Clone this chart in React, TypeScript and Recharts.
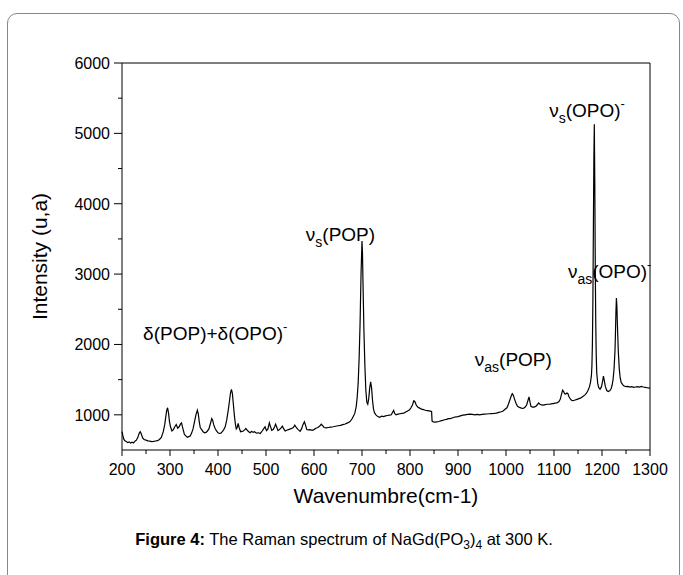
import React from 'react';
import { LineChart, Line, XAxis, YAxis, ReferenceLine, ReferenceDot } from 'recharts';

// Raman shift (cm-1) and intensity
const wavenumbers = [
  200, 202, 204, 206, 209, 212, 215, 218, 221, 224, 227, 230, 233, 236, 238, 240, 243, 246, 250, 254,
  258, 262, 266, 270, 274, 278, 282, 286, 289, 291, 293, 295, 297, 299, 301, 304, 307, 310, 313, 316,
  319, 322, 324, 327, 330, 333, 336, 339, 342, 345, 348, 351, 354, 357, 359, 361, 363, 366, 369, 372,
  375, 378, 381, 384, 387, 389, 391, 394, 397, 400, 403, 406, 409, 412, 415, 418, 421, 424, 426, 428,
  430, 432, 434, 436, 438, 440, 442, 444, 447, 450, 453, 456, 458, 461, 464, 467, 470, 473, 476, 480,
  484, 488, 492, 495, 498, 501, 504, 507, 509, 512, 515, 518, 520, 522, 525, 528, 531, 534, 537, 540,
  543, 547, 551, 554, 557, 560, 563, 567, 571, 574, 577, 580, 582, 585, 588, 592, 596, 600, 604, 608,
  612, 615, 618, 621, 625, 630, 635, 640, 645, 650, 655, 660, 665, 670, 675, 679, 682, 685, 688, 690,
  692, 694, 696, 698, 700, 701, 702, 704, 706, 708, 710, 712, 714, 716, 718, 720, 722, 724, 726, 729,
  733, 737, 741, 745, 749, 753, 757, 761, 764, 766, 768, 771, 775, 779, 783, 787, 791, 795, 799, 802,
  805, 808, 810, 813, 816, 820, 824, 828, 832, 836, 840, 844, 845, 846, 849, 852, 856, 860, 864, 868,
  872, 876, 880, 884, 888, 892, 896, 900, 905, 910, 915, 920, 925, 930, 935, 940, 945, 950, 955, 960,
  965, 970, 975, 980, 985, 990, 994, 998, 1002, 1005, 1008, 1011, 1013, 1015, 1018, 1021, 1024, 1028, 1032, 1036,
  1040, 1043, 1046, 1048, 1050, 1052, 1055, 1058, 1062, 1066, 1068, 1070, 1074, 1078, 1082, 1086, 1090, 1094, 1098, 1102,
  1106, 1110, 1113, 1116, 1118, 1120, 1122, 1124, 1127, 1129, 1131, 1134, 1137, 1140, 1144, 1148, 1152, 1156, 1160, 1164,
  1168, 1171, 1174, 1176, 1178, 1179, 1180, 1181, 1182, 1183, 1184, 1185, 1186, 1187, 1188, 1189, 1191, 1193, 1196, 1199,
  1201, 1203, 1205, 1207, 1210, 1213, 1216, 1219, 1221, 1223, 1225, 1227, 1228, 1229, 1230, 1231, 1232, 1234, 1236, 1238,
  1240, 1243, 1246, 1250, 1254, 1258, 1262, 1266, 1270, 1274, 1278, 1282, 1286, 1290, 1294, 1298, 1300,
];

const intensities = [
  760, 700, 650, 630, 620, 605, 615, 598, 610, 600, 625, 640, 680, 740, 760, 730, 670, 650, 640, 630,
  625, 620, 622, 628, 632, 650, 680, 760, 860, 960, 1060, 1100, 1020, 900, 830, 770, 790, 830, 862, 810,
  830, 870, 885, 800, 720, 700, 680, 690, 700, 740, 800, 900, 1000, 1066, 1010, 900, 820, 790, 760, 745,
  750, 770, 800, 870, 946, 920, 860, 805, 770, 745, 735, 740, 760, 790, 830, 920, 1050, 1200, 1310, 1360,
  1300, 1150, 1000, 880, 800, 820, 880, 820, 760, 765, 770, 790, 805, 780, 760, 745, 765, 750, 760, 740,
  745, 735, 770, 800, 830, 775, 800, 885, 840, 780, 790, 830, 866, 830, 775, 790, 810, 838, 800, 770,
  780, 790, 800, 810, 820, 852, 820, 790, 765, 800, 860, 900, 860, 790, 785, 790, 780, 790, 810, 820,
  840, 866, 845, 820, 815, 820, 825, 830, 838, 845, 850, 860, 870, 885, 905, 940, 980, 1020, 1120, 1250,
  1450, 1800, 2300, 3000, 3470, 3300, 2900, 2200, 1700, 1350, 1180, 1150, 1230, 1380, 1470, 1380, 1200, 1080, 1030, 1000,
  975, 965, 980, 975, 985, 990, 995, 1000, 1040, 1062, 1020, 1000, 1010, 1015, 1020, 1025, 1040, 1055, 1070, 1100,
  1140, 1200, 1190, 1140, 1110, 1095, 1080, 1075, 1065, 1060, 1055, 1050, 1045, 910, 900, 895, 900, 905, 915, 922,
  930, 935, 945, 945, 955, 965, 970, 975, 985, 995, 1000, 1005, 1010, 1005, 1000, 1005, 1000, 1005, 1010, 1012,
  1015, 1018, 1020, 1025, 1035, 1043, 1055, 1080, 1100, 1150, 1210, 1270, 1300, 1280, 1220, 1160, 1120, 1105, 1095, 1090,
  1110, 1140, 1210, 1256, 1180, 1120, 1110, 1110, 1120, 1150, 1170, 1155, 1140, 1137, 1145, 1150, 1150, 1155, 1160, 1165,
  1170, 1185, 1220, 1300, 1350, 1330, 1300, 1295, 1310, 1300, 1260, 1225, 1205, 1200, 1210, 1220, 1230, 1240, 1260, 1280,
  1310, 1350, 1400, 1460, 1560, 1700, 2000, 2600, 3600, 4600, 5130, 4300, 3100, 2300, 1850, 1600, 1450, 1390, 1365, 1400,
  1470, 1550, 1480, 1400, 1345, 1330, 1340, 1370, 1420, 1500, 1640, 1900, 2150, 2450, 2660, 2550, 2300, 1900, 1650, 1520,
  1460, 1430, 1410, 1400, 1405, 1395, 1400, 1390, 1395, 1400, 1395, 1405, 1395, 1390, 1385, 1380, 1385,
];

const xTicks = [200, 250, 300, 350, 400, 450, 500, 550, 600, 650, 700, 750, 800, 850, 900, 950, 1000, 1050, 1100, 1150, 1200, 1250, 1300];
const yTicks = [1000, 1500, 2000, 2500, 3000, 3500, 4000, 4500, 5000, 5500, 6000];

// band assignments: [wavenumber, intensity] anchor of the text start
const annotations = [
  { w: 244, i: 2060, sym: 'δ', sub: '', body: '(POP)+δ(OPO)', sup: '-' },
  { w: 583, i: 3470, sym: 'ν', sub: 's', body: '(POP)', sup: '' },
  { w: 935, i: 1700, sym: 'ν', sub: 'as', body: '(POP)', sup: '' },
  { w: 1090, i: 5230, sym: 'ν', sub: 's', body: '(OPO)', sup: '-' },
  { w: 1129, i: 2940, sym: 'ν', sub: 'as', body: '(OPO)', sup: '-' },
];

const data = wavenumbers.map((w, k) => ({ w, i: intensities[k] }));

const FONT = '"Liberation Sans", Arial, sans-serif';

const XTick = (props: any) => {
  const { x, y, payload } = props;
  const major = payload.value % 100 === 0;
  return (
    <g>
      <line x1={x} y1={y} x2={x} y2={y + (major ? 6 : 4)} stroke="#000" />
      {major && (
        <text x={x} y={y + 25} textAnchor="middle" fontSize={16} fontFamily={FONT} fill="#000">
          {payload.value}
        </text>
      )}
    </g>
  );
};

const YTick = (props: any) => {
  const { x, y, payload } = props;
  const major = payload.value % 1000 === 0;
  return (
    <g>
      <line x1={x} y1={y} x2={x - (major ? 8 : 4)} y2={y} stroke="#000" />
      {major && (
        <text x={x - 12} y={y + 6} textAnchor="end" fontSize={16} fontFamily={FONT} fill="#000">
          {payload.value}
        </text>
      )}
    </g>
  );
};

const Band = ({ cx, cy, a }: any) => (
  <text x={cx} y={cy} fontSize={19} fontFamily={FONT} fill="#000">
    <tspan>{a.sym}</tspan>
    {a.sub && <tspan dy={6} fontSize={14}>{a.sub}</tspan>}
    <tspan dy={a.sub ? -6 : 0}>{a.body}</tspan>
    {a.sup && <tspan dy={-9} fontSize={13}>{a.sup}</tspan>}
  </text>
);

export default function App() {
  return (
    <div style={{ position: 'absolute', left: 0, top: 0, width: 683, height: 575, overflow: 'hidden', background: '#fff' }}>
      <div
        style={{
          position: 'absolute', left: 7, top: 13, width: 673, height: 620,
          border: '1px solid #888', borderRadius: 10, boxSizing: 'border-box',
        }}
      />
      <div style={{ position: 'absolute', left: 0, top: 0 }}>
        <LineChart width={683} height={575} data={data} margin={{ top: 63, right: 33, bottom: 65, left: 0 }}>
          <XAxis
            dataKey="w"
            type="number"
            domain={[200, 1300]}
            ticks={xTicks}
            interval={0}
            tickSize={0}
            tickMargin={0}
            tickLine={false}
            tick={<XTick />}
            height={60}
            axisLine={{ stroke: '#000' }}
            label={{ value: 'Wavenumbre(cm-1)', position: 'insideBottom', offset: 7, fontSize: 21, fontFamily: FONT, fill: '#000' }}
          />
          <YAxis
            type="number"
            domain={[500, 6000]}
            ticks={yTicks}
            interval={0}
            tickSize={0}
            tickMargin={0}
            tickLine={false}
            tick={<YTick />}
            width={122}
            axisLine={{ stroke: '#000' }}
            label={{
              content: ({ viewBox }: any) => {
                const cx = viewBox.x + 47;
                const cy = viewBox.y + viewBox.height / 2;
                return (
                  <text x={cx} y={cy} transform={`rotate(-90, ${cx}, ${cy})`} textAnchor="middle" fontSize={21} fontFamily={FONT} fill="#000">
                    Intensity (u,a)
                  </text>
                );
              },
            }}
          />
          <ReferenceLine y={6000} stroke="#000" />
          <ReferenceLine x={1300} stroke="#000" />
          <Line type="linear" dataKey="i" stroke="#000" strokeWidth={1.2} dot={false} isAnimationActive={false} />
          {annotations.map((a, k) => (
            <ReferenceDot key={k} x={a.w} y={a.i} r={0} shape={(p: any) => <Band cx={p.cx} cy={p.cy} a={a} />} />
          ))}
        </LineChart>
      </div>
      <div
        style={{
          position: 'absolute', left: 7, top: 530, width: 674, textAlign: 'center',
          fontFamily: FONT, fontSize: 16.5, color: '#000', lineHeight: '18px',
        }}
      >
        <b>Figure 4:</b> The Raman spectrum of NaGd(PO<sub style={{ fontSize: 12 }}>3</sub>)<sub style={{ fontSize: 12 }}>4</sub> at 300 K.
      </div>
    </div>
  );
}
